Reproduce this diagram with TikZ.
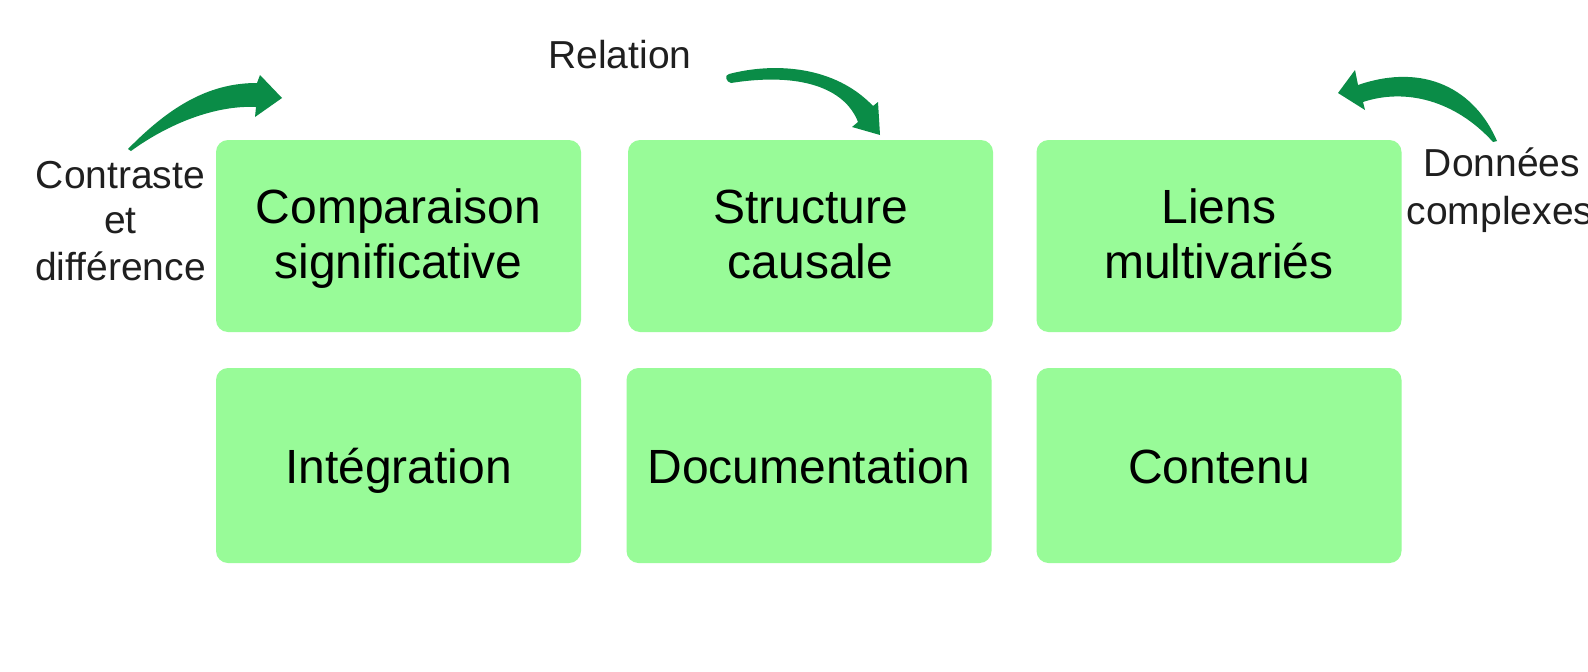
\documentclass[tikz,border=0pt]{standalone}
\usepackage{fontspec}
\setmainfont{Liberation Sans}
\definecolor{boxgreen}{HTML}{98FB98}
\definecolor{arrowgreen}{HTML}{0A8C47}
\begin{document}
\begin{tikzpicture}[x=1pt,y=-1pt,
  card/.style={rectangle, rounded corners=12pt, fill=boxgreen, draw=none,
    minimum width=365pt, minimum height=192pt, inner sep=0pt},
  cardlow/.style={card, minimum height=195pt},
  cardtext/.style={anchor=base, inner sep=0pt, font=\fontsize{48}{56}\selectfont, text=black},
  side/.style={anchor=base, inner sep=0pt, font=\fontsize{39}{46}\selectfont, text=black!88},
  bendarrow/.style={fill=arrowgreen, draw=none}]
\useasboundingbox (0,0) rectangle (1588,672);
\fill[white] (0,0) rectangle (1588,672);

% boxes
\node[card] (b1) at (398.5,236) {};
\node[card] (b2) at (810.5,236) {};
\node[card] (b3) at (1219,236) {};
\node[cardlow] (b4) at (398.5,465.5) {};
\node[cardlow] (b5) at (809,465.5) {};
\node[cardlow] (b6) at (1219,465.5) {};

% box texts
\node[cardtext] (t1a) at (398.5,223) {Comparaison};
\node[cardtext] (t1b) at (398.5,278) {significative};
\node[cardtext] (t2a) at (810.5,223) {Structure};
\node[cardtext] (t2b) at (810.5,278) {causale};
\node[cardtext] (t3a) at (1219,223) {Liens};
\node[cardtext] (t3b) at (1219,278) {multivariés};
\node[cardtext] (t4) at (398.5,483) {Intégration};
\node[cardtext] (t5) at (809,483) {Documentation};
\node[cardtext] (t6) at (1219,483) {Contenu};

% side labels
\node[side] (l1a) at (120.5,188) {Contraste};
\node[side] (l1b) at (120.5,233) {et};
\node[side] (l1c) at (120.5,280) {différence};
\node[side] (l2) at (620,68) {Relation};
\node[side] (l3a) at (1502,176) {Données};
\node[side] (l3b) at (1500,224) {complexes};

% curved arrows
\path[bendarrow] (128,149) .. controls (173,103) and (212,83) .. (257,83)
  -- (260,75) -- (282,98) -- (255,117) -- (256,107)
  .. controls (215,105) and (168,124) .. (131,151) -- cycle;
\path[bendarrow] (729,74) .. controls (775,62) and (835,66) .. (873,106)
  -- (878,102) -- (880,135) -- (852,127) -- (858,122)
  .. controls (845,88) and (800,72) .. (731,83)
  .. controls (726,82) and (724,75) .. (729,74) -- cycle;
\path[bendarrow] (1497,141) .. controls (1475,90) and (1425,62) .. (1358,85)
  -- (1355,70) -- (1338,93) -- (1365,110) -- (1363,102)
  .. controls (1405,88) and (1455,100) .. (1493,142) -- cycle;
\end{tikzpicture}
\end{document}
